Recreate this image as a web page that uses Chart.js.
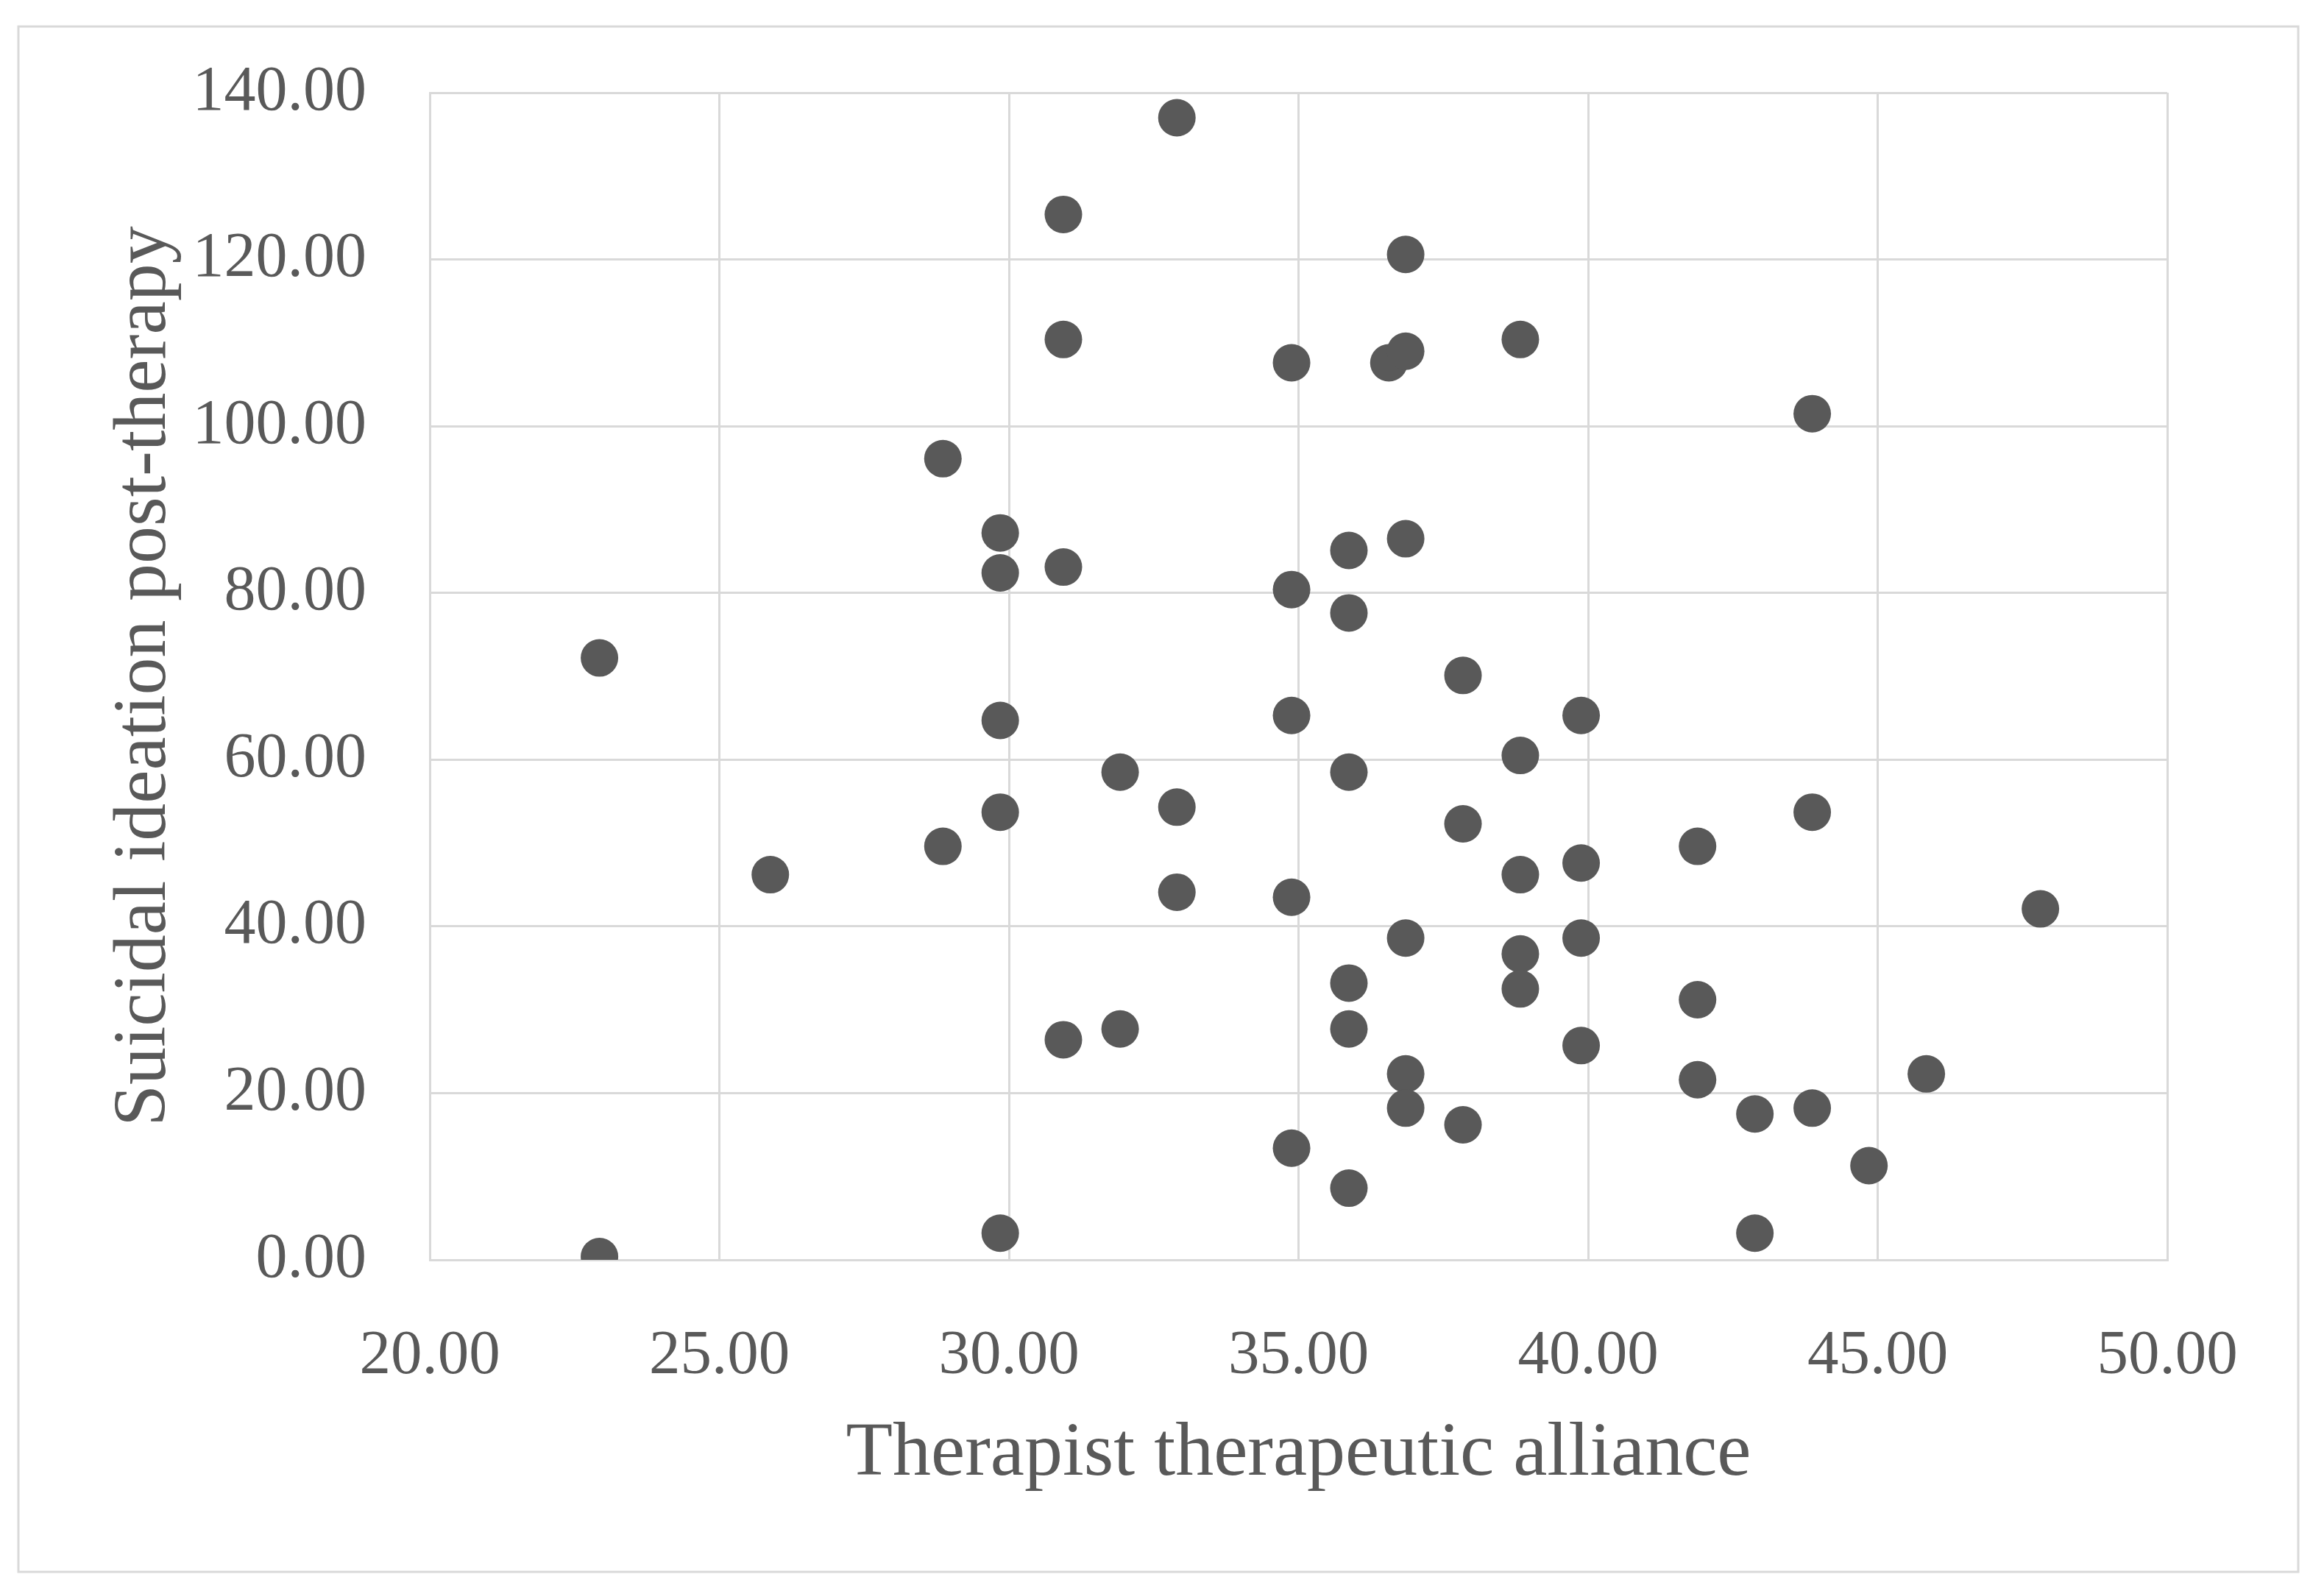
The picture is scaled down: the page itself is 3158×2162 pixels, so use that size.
<!DOCTYPE html>
<html>
<head>
<meta charset="utf-8">
<script src="https://cdn.jsdelivr.net/npm/chart.js@4/dist/chart.umd.min.js"></script>
<style>
  html, body { margin: 0; padding: 0; background: #fff; }
  canvas { display: block; }
</style>
</head>
<body>
<canvas id="myChart" width="3158" height="2162"></canvas>
<script>
// x: therapist therapeutic alliance, y: suicidal ideation post-therapy
var allianceScores = [
  22.93, 22.93, 25.88, 28.86, 28.86, 29.85, 29.85, 29.85, 29.85, 29.85,
  30.94, 30.94, 30.94, 30.94, 31.92, 31.92, 32.90, 32.90, 32.90, 34.88,
  34.88, 34.88, 34.88, 34.88, 35.87, 35.87, 35.87, 35.87, 35.87, 35.87,
  36.56, 36.85, 36.85, 36.85, 36.85, 36.85, 36.85, 37.84, 37.84, 37.84,
  38.83, 38.83, 38.83, 38.83, 38.83, 39.88, 39.88, 39.88, 39.88, 41.89,
  41.89, 41.89, 42.88, 42.88, 43.87, 43.87, 43.87, 44.85, 45.84, 47.81
];
var ideationScores = [
  72.2, 0.4, 46.2, 96.1, 49.6, 87.2, 82.4, 64.7, 53.7, 3.2,
  125.4, 110.4, 83.1, 26.4, 58.5, 27.7, 137.0, 54.3, 44.1, 107.6,
  80.4, 65.3, 43.5, 13.4, 85.1, 77.6, 58.5, 33.2, 27.7, 8.6,
  107.6, 120.6, 109.0, 86.5, 38.6, 22.3, 18.2, 70.1, 52.3, 16.2,
  110.4, 60.5, 46.2, 36.7, 32.5, 65.3, 47.6, 38.6, 25.7, 49.6,
  31.2, 21.6, 17.5, 3.2, 101.5, 53.7, 18.2, 11.3, 22.3, 42.1
];
var xTicks = [20, 25, 30, 35, 40, 45, 50];
var yTicks = [0, 20, 40, 60, 80, 100, 120, 140];

var points = allianceScores.map(function (x, i) {
  return { x: x, y: ideationScores[i] };
});

var textColor = '#595959';
var gridColor = '#d9d9d9';
var serif = "'Liberation Serif', 'DejaVu Serif', serif";

// 外框
var frame = {
  id: 'frame',
  beforeDraw: function (chart) {
    var c = chart.ctx;
    c.save();
    c.fillStyle = '#fff';
    c.fillRect(0, 0, chart.width, chart.height);
    c.strokeStyle = gridColor;
    c.lineWidth = 3;
    c.strokeRect(25, 36, 3098, 2100);
    c.restore();
  }
};

var ctx = document.getElementById('myChart').getContext('2d');
var chart = new Chart(ctx, {
  type: 'scatter',
  data: {
    datasets: [{
      data: points,
      backgroundColor: '#595959',
      borderWidth: 0,
      pointRadius: 25.5,
      pointHoverRadius: 25.5
    }]
  },
  options: {
    responsive: false,
    animation: false,
    layout: { padding: { left: 0, top: 126, right: 213, bottom: 0 } },
    plugins: {
      legend: { display: false },
      tooltip: { enabled: false }
    },
    scales: {
      x: {
        type: 'linear',
        min: 20,
        max: 50,
        afterBuildTicks: function (s) { s.ticks = xTicks.map(function (v) { return { value: v }; }); },
        afterFit: function (s) { s.height = 450; },
        ticks: {
          color: textColor,
          font: { family: serif, size: 85 },
          padding: 81,
          callback: function (v) { return Number(v).toFixed(2); }
        },
        grid: { color: gridColor, lineWidth: 3, drawTicks: false },
        border: { color: gridColor, width: 3 },
        title: {
          display: true,
          text: 'Therapist therapeutic alliance',
          color: textColor,
          font: { family: serif, size: 104 },
          padding: { top: 0, bottom: 123 }
        }
      },
      y: {
        type: 'linear',
        min: 0,
        max: 140,
        afterBuildTicks: function (s) { s.ticks = yTicks.map(function (v) { return { value: v }; }); },
        afterFit: function (s) { s.width = 584; },
        ticks: {
          color: textColor,
          font: { family: serif, size: 86, lineHeight: 0.88 },
          padding: 86,
          callback: function (v) { return Number(v).toFixed(2); }
        },
        grid: { color: gridColor, lineWidth: 3, drawTicks: false },
        border: { color: gridColor, width: 3 },
        title: {
          display: true,
          text: 'Suicidal ideation post-therapy',
          color: textColor,
          font: { family: serif, size: 102 },
          padding: { top: 136, bottom: 0 }
        }
      }
    }
  },
  plugins: [frame]
});
</script>
</body>
</html>
